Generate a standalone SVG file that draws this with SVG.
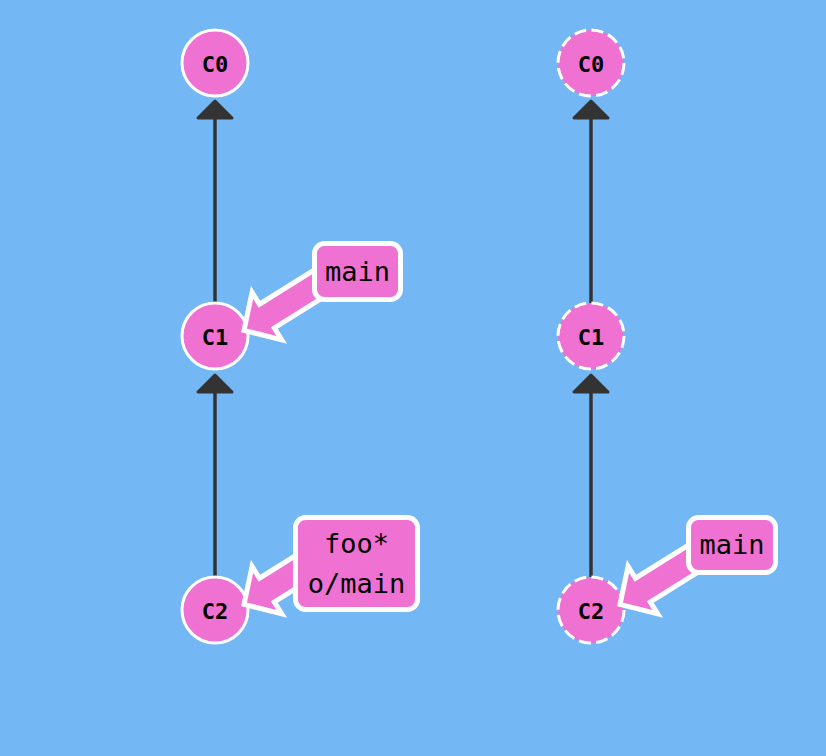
<svg xmlns="http://www.w3.org/2000/svg" xmlns:xlink="http://www.w3.org/1999/xlink" width="826" height="756" viewBox="0 0 826 756">
<style>
.bg{fill:#74b7f5}
.edge{stroke:#333;stroke-width:3.5;fill:none}
.head{fill:#333;stroke:#333;stroke-width:3;stroke-linejoin:round}
.node{fill:#ef71d2;stroke:#fff;stroke-width:3}
.dashed{stroke-dasharray:12 5.3}
.nlabel{font-family:"DejaVu Sans Mono","Liberation Mono",monospace;font-weight:bold;font-size:22px;text-anchor:middle;fill:#000}
.box{fill:#ef71d2;stroke:#fff;stroke-width:5}
.blabel{font-family:"DejaVu Sans Mono","Liberation Mono",monospace;font-size:27px;text-anchor:middle;fill:#000}
.pointer{fill:#ef71d2;stroke:#fff;stroke-width:5;stroke-linejoin:miter;stroke-miterlimit:10}
</style>
<defs>
<path id="ptr" d="M0,0 L-27,-28 L-27,-14 L-120,-14 L-120,14 L-27,14 L-27,28 Z"/>
<path id="ahead" d="M0,0 L-17,17 L17,17 Z"/>
</defs>
<rect class="bg" x="0" y="0" width="826" height="756"/>
<g id="connectors">
<line class="edge" x1="215" y1="117" x2="215" y2="303"/>
<use xlink:href="#ahead" class="head" transform="translate(215,101)"/>
<line class="edge" x1="215" y1="391" x2="215" y2="577"/>
<use xlink:href="#ahead" class="head" transform="translate(215,375)"/>
<line class="edge" x1="591" y1="117" x2="591" y2="303"/>
<use xlink:href="#ahead" class="head" transform="translate(591,101)"/>
<line class="edge" x1="591" y1="391" x2="591" y2="577"/>
<use xlink:href="#ahead" class="head" transform="translate(591,375)"/>
</g>
<g id="left-C0"><circle class="node" cx="215" cy="63" r="33"/><text class="nlabel" x="215" y="71.5">C0</text></g>
<g id="left-C1"><circle class="node" cx="215" cy="336" r="33"/><text class="nlabel" x="215" y="344.5">C1</text></g>
<g id="left-C2"><circle class="node" cx="215" cy="610" r="33"/><text class="nlabel" x="215" y="618.5">C2</text></g>
<g id="right-C0"><circle class="node dashed" cx="591" cy="63" r="33"/><text class="nlabel" x="591" y="71.5">C0</text></g>
<g id="right-C1"><circle class="node dashed" cx="591" cy="336" r="33"/><text class="nlabel" x="591" y="344.5">C1</text></g>
<g id="right-C2"><circle class="node dashed" cx="591" cy="610" r="33"/><text class="nlabel" x="591" y="618.5">C2</text></g>
<g id="left-main">
<use xlink:href="#ptr" class="pointer" transform="translate(244,330.4) rotate(148)"/>
<rect class="box" x="314.5" y="243.5" width="86" height="56" rx="10"/>
<text class="blabel" x="357.5" y="281">main</text>
</g>
<g id="left-foo">
<use xlink:href="#ptr" class="pointer" transform="translate(244,604.4) rotate(148)"/>
<rect class="box" x="295.5" y="517.5" width="122" height="92" rx="10"/>
<text class="blabel" x="356.5" y="553">foo*</text>
<text class="blabel" x="356.5" y="593">o/main</text>
</g>
<g id="right-main">
<use xlink:href="#ptr" class="pointer" transform="translate(620,604.4) rotate(148)"/>
<rect class="box" x="688.5" y="517.5" width="87" height="55" rx="10"/>
<text class="blabel" x="732" y="554">main</text>
</g>
</svg>
